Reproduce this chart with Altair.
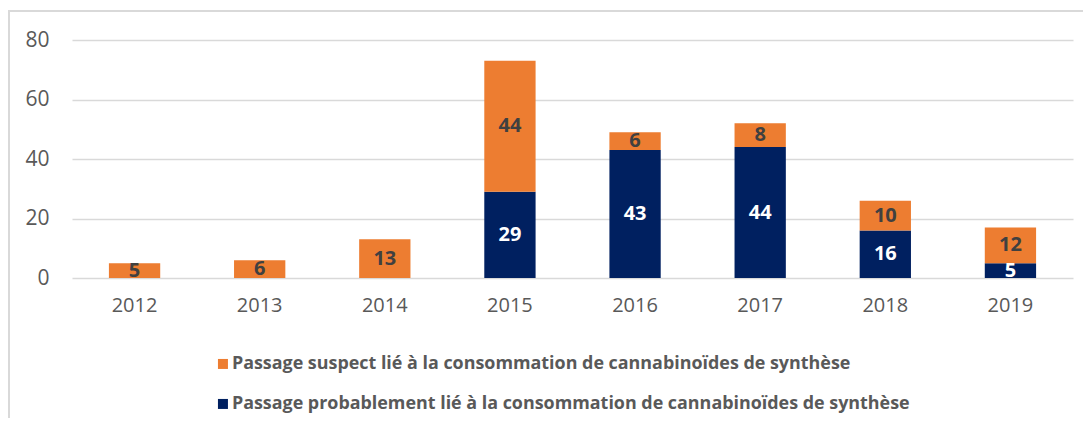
import altair as alt
import pandas as pd

years = ["2012", "2013", "2014", "2015", "2016", "2017", "2018", "2019"]
probable = [0, 0, 0, 29, 43, 44, 16, 5]
suspect = [5, 6, 13, 44, 6, 8, 10, 12]

s_susp = "Passage suspect lié à la consommation de cannabinoïdes de synthèse"
s_prob = "Passage probablement lié à la consommation de cannabinoïdes de synthèse"

rows = []
for y, p, s in zip(years, probable, suspect):
    rows.append({"year": y, "series": s_prob, "value": p, "ord": 0})
    rows.append({"year": y, "series": s_susp, "value": s, "ord": 1})
df = pd.DataFrame(rows)

FONT = "Open Sans"
ORANGE = "#ED7D31"
NAVY = "#002060"

x_enc = alt.X(
    "year:N",
    sort=years,
    scale=alt.Scale(paddingInner=0.59, paddingOuter=0.295),
    axis=alt.Axis(title=None, labelAngle=0, ticks=False, domain=False,
                  labelFontSize=20, labelColor="#595959", labelFont=FONT,
                  labelPadding=17),
)

base = alt.Chart(df)

bars = base.mark_bar().encode(
    x=x_enc,
    y=alt.Y("value:Q", stack="zero",
            scale=alt.Scale(domain=[0, 80], nice=False),
            axis=alt.Axis(title=None, values=[0, 20, 40, 60, 80], ticks=False,
                          domain=False, labelFontSize=21, labelColor="#595959",
                          labelFont=FONT, labelPadding=23,
                          gridColor="#d9d9d9", gridWidth=1.5)),
    color=alt.Color("series:N",
                    scale=alt.Scale(domain=[s_susp, s_prob], range=[ORANGE, NAVY]),
                    legend=alt.Legend(title=None, orient="none", legendX=142,
                                      legendY=315, direction="vertical",
                                      symbolType="square", symbolSize=100,
                                      symbolStrokeWidth=0, symbolOpacity=1,
                                      labelFont=FONT, labelFontSize=17.9,
                                      labelFontWeight="bold", labelColor="#595959",
                                      labelLimit=1000, labelOffset=0,
                                      rowPadding=21, padding=0)),
    order=alt.Order("ord:Q", sort="ascending"),
)

labels = base.transform_filter("datum.value > 0").transform_stack(
    stack="value", groupby=["year"], as_=["y0", "y1"],
    sort=[alt.SortField("ord", order="ascending")]
).transform_calculate(mid="(datum.y0 + datum.y1) / 2").mark_text(
    font=FONT, fontSize=20, fontWeight="bold", baseline="middle", align="center"
).encode(
    x=alt.X("year:N", sort=years),
    y=alt.Y("mid:Q"),
    text=alt.Text("value:Q"),
    color=alt.condition("datum.ord == 0", alt.value("white"), alt.value("#404040")),
)

frame = alt.Chart(pd.DataFrame({"a": [0]})).mark_rect(
    fillOpacity=0, stroke="#d9d9d9", strokeWidth=2
).encode(
    x=alt.value(-63), x2=alt.value(1300), y=alt.value(-29), y2=alt.value(600)
)

chart = alt.layer(frame, bars, labels).properties(
    width=1001, height=238,
    padding={"left": 64, "top": 32, "right": 10, "bottom": 140},
    autosize=alt.AutoSizeParams(type="none"),
).configure_view(stroke=None)

chart.save("out.html", embed_options={"renderer": "svg", "actions": False})
